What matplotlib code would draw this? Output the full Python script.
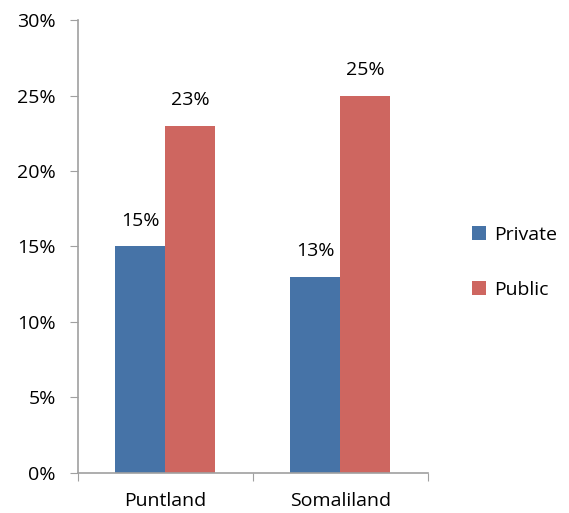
import matplotlib.pyplot as plt
import numpy as np

plt.rcParams['font.family'] = ['Open Sans', 'DejaVu Sans']

# Dados do gráfico
regioes = ["Puntland", "Somaliland"]
privado = [15, 13]
publico = [23, 25]
ticks_y = [0, 5, 10, 15, 20, 25, 30]

cor_privado = "#4673A7"
cor_publico = "#CE6660"
cor_eixo = "#A0A0A0"
fs = 14

fig = plt.figure(figsize=(5.69, 5.13), dpi=100)
ax = fig.add_axes([0.137, 0.078, 0.615, 0.883])

x = np.arange(len(regioes))
w = 0.286
b1 = ax.bar(x - w/2, privado, w, color=cor_privado, label="Private")
b2 = ax.bar(x + w/2, publico, w, color=cor_publico, label="Public")

# Rótulos dos valores
for barras, vals in ((b1, privado), (b2, publico)):
    for r, v in zip(barras, vals):
        ax.annotate(f"{v}%", (r.get_x() + r.get_width()/2, v),
                    xytext=(0, 12), textcoords="offset points",
                    ha="center", va="bottom", fontsize=fs)

ax.set_xlim(-0.5, len(regioes) - 0.5)
ax.set_ylim(0, 30)
ax.set_yticks(ticks_y)
ax.set_yticklabels([f"{t}%" for t in ticks_y], fontsize=fs)

# Marcas do eixo x entre as categorias, rótulos no centro
ax.set_xticks(np.arange(len(regioes) + 1) - 0.5)
ax.set_xticklabels([])
ax.set_xticks(x, minor=True)
ax.set_xticklabels(regioes, minor=True, fontsize=fs)
ax.tick_params(axis="x", which="minor", length=0, pad=14)
ax.tick_params(axis="x", which="major", length=6, color=cor_eixo)
ax.tick_params(axis="y", length=6, color=cor_eixo, pad=10)

for s in ("top", "right"):
    ax.spines[s].set_visible(False)
for s in ("left", "bottom"):
    ax.spines[s].set_color(cor_eixo)
    ax.spines[s].set_linewidth(1.2)

ax.legend(loc="center left", bbox_to_anchor=(1.075, 0.465), frameon=False,
          fontsize=fs, handlelength=0.75, handleheight=0.75,
          labelspacing=1.9, handletextpad=0.4)

fig.savefig("out.png", dpi=100)
